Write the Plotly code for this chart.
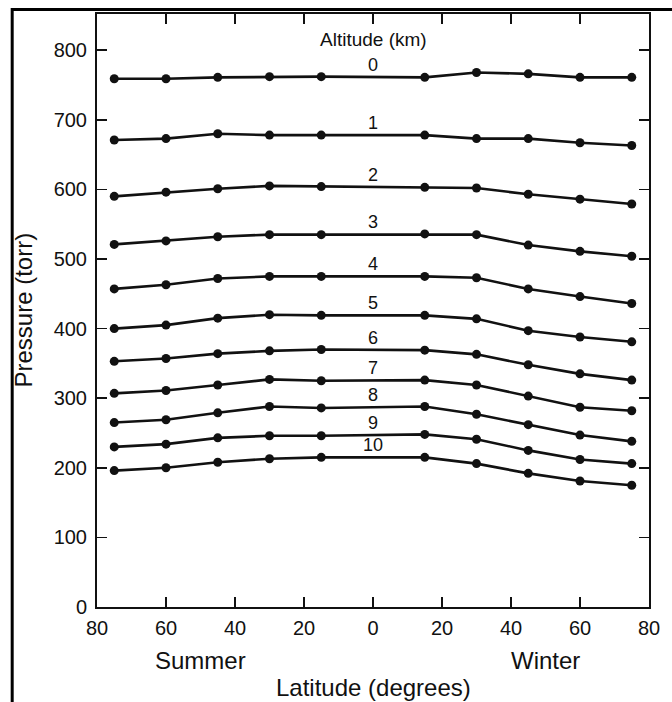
import plotly.graph_objects as go

# Data
latitudes = [-75, -60, -45, -30, -15, 15, 30, 45, 60, 75]  # negative = summer hemisphere
altitudes_km = [0, 1, 2, 3, 4, 5, 6, 7, 8, 9, 10]
p_alt0 = [759, 759, 761, 762, 762, 761, 768, 766, 761, 761]
p_alt1 = [671, 673, 680, 678, 678, 678, 673, 673, 667, 663]
p_alt2 = [590, 596, 601, 605, 604, 603, 602, 593, 586, 579]
p_alt3 = [521, 526, 532, 535, 535, 536, 535, 520, 511, 504]
p_alt4 = [457, 463, 472, 475, 475, 475, 473, 457, 446, 436]
p_alt5 = [400, 405, 415, 420, 419, 419, 414, 397, 388, 381]
p_alt6 = [353, 357, 364, 368, 370, 369, 363, 348, 335, 326]
p_alt7 = [307, 311, 319, 327, 325, 326, 319, 303, 287, 282]
p_alt8 = [265, 269, 279, 288, 286, 288, 277, 262, 247, 238]
p_alt9 = [230, 234, 243, 246, 246, 248, 241, 225, 212, 206]
p_alt10 = [196, 200, 208, 213, 215, 215, 206, 192, 181, 175]
series = [p_alt0, p_alt1, p_alt2, p_alt3, p_alt4, p_alt5,
          p_alt6, p_alt7, p_alt8, p_alt9, p_alt10]

x_tickvals = [-80, -60, -40, -20, 0, 20, 40, 60, 80]
x_ticktext = ["80", "60", "40", "20", "0", "20", "40", "60", "80"]
y_tickvals = [0, 100, 200, 300, 400, 500, 600, 700, 800]

FONT = "Liberation Sans, Arial, Helvetica, sans-serif"
INK = "#111111"

W, H = 672, 702
ML, MR, MT, MB = 97, 12, 14, 95
PW, PH = W - ML - MR, H - MT - MB

fig = go.Figure()
for alt, vals in zip(altitudes_km, series):
    fig.add_trace(go.Scatter(
        x=latitudes, y=vals, mode="lines+markers",
        line=dict(color=INK, width=2.6),
        marker=dict(color=INK, size=9),
        showlegend=False, name=f"{alt} km",
    ))
    mid = (vals[4] + vals[5]) / 2
    fig.add_annotation(x=0, y=mid, text=str(alt), showarrow=False,
                       yanchor="bottom", yshift=0,
                       font=dict(family=FONT, size=18, color=INK))

fig.add_annotation(x=0, y=816, text="Altitude (km)", showarrow=False,
                   yanchor="middle", font=dict(family=FONT, size=19, color=INK))

fig.add_annotation(x=-50, xref="x", y=0, yref="paper", yanchor="middle",
                   yshift=-53, text="Summer", showarrow=False,
                   font=dict(family=FONT, size=24, color=INK))
fig.add_annotation(x=50, xref="x", y=0, yref="paper", yanchor="middle",
                   yshift=-53, text="Winter", showarrow=False,
                   font=dict(family=FONT, size=24, color=INK))
fig.add_annotation(x=0, xref="x", y=0, yref="paper", yanchor="middle",
                   yshift=-80, text="Latitude (degrees)", showarrow=False,
                   font=dict(family=FONT, size=24, color=INK))
fig.add_annotation(x=0, xref="paper", xshift=-74, y=0.5, yref="paper",
                   yanchor="middle", xanchor="center", textangle=-90,
                   text="Pressure (torr)", showarrow=False,
                   font=dict(family=FONT, size=24, color=INK))

# outer frame (left and top edges)
def px_x(px):
    return (px - ML) / PW

def px_y(py):
    return (H - MB - py) / PH

fig.add_shape(type="path", xref="paper", yref="paper",
              path=f"M {px_x(10.5)},{px_y(720)} L {px_x(10.5)},{px_y(9.5)} L {px_x(700)},{px_y(9.5)}",
              line=dict(color="#000000", width=3))

axis_common = dict(showline=True, linecolor=INK, linewidth=2, mirror="ticks",
                   ticks="inside", ticklen=10, tickwidth=1.5, tickcolor=INK,
                   showgrid=False, zeroline=False,
                   tickfont=dict(family=FONT, size=20, color=INK))

fig.update_layout(
    width=W, height=H,
    margin=dict(l=ML, r=MR, t=MT, b=MB),
    paper_bgcolor="white", plot_bgcolor="white",
    hovermode=False,
    xaxis=dict(range=[-80, 80], tickvals=x_tickvals, ticktext=x_ticktext,
               ticklabelstandoff=2, **axis_common),
    yaxis=dict(range=[0, 852], tickvals=y_tickvals,
               ticklabelstandoff=4, **axis_common),
)

fig.write_html("out.html",
               config={"displayModeBar": False, "staticPlot": True},
               post_script="document.body.style.margin='0';document.body.style.overflow='hidden';")
